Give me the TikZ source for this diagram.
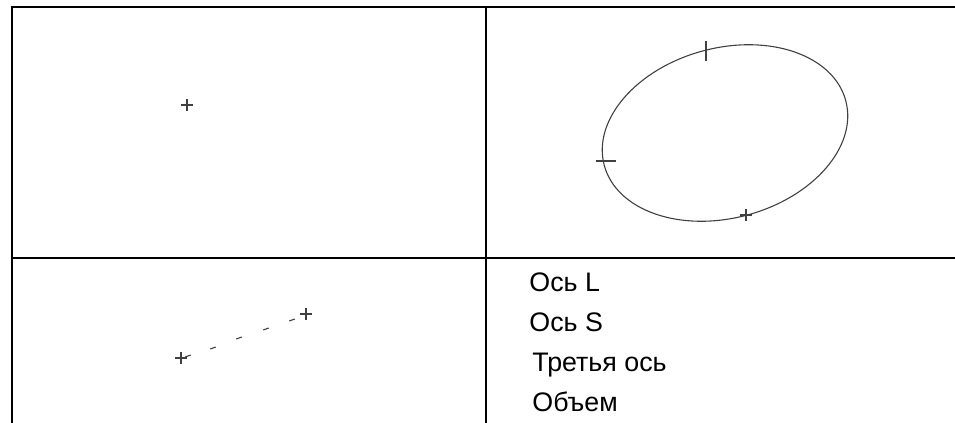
\documentclass[tikz,border=0pt]{standalone}
\usepackage{fontspec}
\setmainfont{Liberation Sans}

\tikzset{
	grid line/.style={line width=1pt, line cap=rect},
	curve/.style={line width=0.55pt, black!75},
	plusmark/.pic={\draw[curve] (-6,0) -- (6,0) (0,-6) -- (0,6);},
	dashmark/.pic={\draw[curve, rotate=19] (-3,0) -- (3,0);},
	axis label/.style={anchor=base west, inner sep=0pt, font=\fontsize{13.4}{16}\selectfont},
}

\begin{document}
\begin{tikzpicture}[x=0.5pt, y=-0.5pt]
	\useasboundingbox (0,0) rectangle (955,423);

	% Table frame
	\coordinate (tl) at (12,7);
	\coordinate (tr) at (954,7);
	\coordinate (bl) at (12,423);
	\coordinate (ml) at (12,258);
	\coordinate (mr) at (954,258);
	\coordinate (tm) at (486,7);
	\coordinate (bm) at (486,423);
	\draw[grid line] (tr) -- (tl) -- (bl);
	\draw[grid line] (ml) -- (mr);
	\draw[grid line] (tm) -- (bm);

	% Point
	\coordinate (pt) at (187,105);
	\pic at (pt) {plusmark};

	% Ellipse
	\coordinate (el) at (725,133);
	\draw[curve, rotate around={15:(el)}] (el) ellipse [x radius=125, y radius=85];
	\coordinate (elTop) at (706,51);
	\coordinate (elLeft) at (606,161);
	\coordinate (elBot) at (746,215);
	\draw[curve] ([yshift=-5]elTop) -- ([yshift=5]elTop);
	\draw[curve] ([xshift=-5]elLeft) -- ([xshift=5]elLeft);
	\pic at (elBot) {plusmark};

	% Line of points
	\coordinate (lnA) at (181,358);
	\coordinate (lnB) at (306,314);
	\pic at (lnA) {plusmark};
	\pic at (lnB) {plusmark};
	\foreach \p in {(188,356),(213,348),(239,338),(266,329),(292,320)}
		\pic at \p {dashmark};

	% Labels
	\node[axis label] (lblL) at (529,291) {Ось L};
	\node[axis label] (lblS) at (529,331) {Ось S};
	\node[axis label] (lblT) at (532,371) {Третья ось};
	\node[axis label] (lblV) at (532,411) {Объем};
\end{tikzpicture}
\end{document}
